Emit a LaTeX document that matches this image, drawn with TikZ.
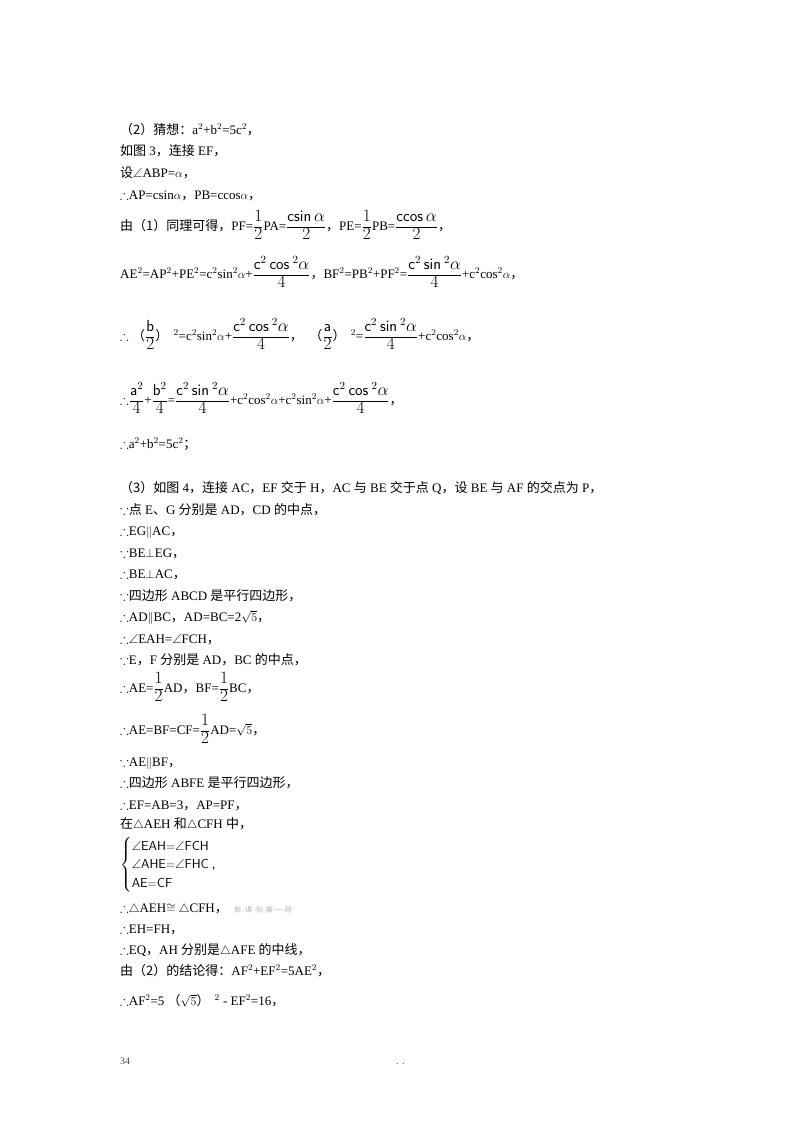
\documentclass[tikz,border=0pt]{standalone}
\usepackage{fontspec}
\usepackage{amsmath,amssymb}
\setmainfont{Liberation Serif}
\newfontfamily\cjk{Noto Sans CJK SC}
\newcommand{\C}[1]{{\cjk #1}}
\newcommand{\ts}{$\therefore$}
\newcommand{\bc}{$\because$}
\newcommand{\df}[2]{$\displaystyle\frac{\text{\fontsize{16}{16}\selectfont$#1$}}{\text{\fontsize{16}{16}\selectfont$#2$}}$}
\newcommand{\s}[1]{\mathsf{#1}}
\begin{document}
\begin{tikzpicture}[x=1pt,y=-1pt,every node/.style={anchor=base west,inner sep=0pt,font=\fontsize{13}{15}\selectfont}]
\useasboundingbox (0,0) rectangle (800,1132);
\fill[white] (0,0) rectangle (800,1132);
\node (l1) at (120,134) {\C{（2）猜想：}a$^2$+b$^2$=5c$^2$\C{，}};
\node (l2) at (120,155) {\C{如图} 3\C{，连接} EF\C{，}};
\node (l3) at (120,177) {\C{设}$\angle$ABP=$\alpha$\C{，}};
\node (l4) at (120,199) {\ts AP=csin$\alpha$\C{，}PB=ccos$\alpha$\C{，}};
\node (l5) at (120,230) {\C{由（1）同理可得，}PF=\df{1}{2}PA=\df{\s{csin}\,\alpha}{2}\C{，}PE=\df{1}{2}PB=\df{\s{ccos}\,\alpha}{2}\C{，}};
\node (l6) at (120,278) {AE$^2$=AP$^2$+PE$^2$=c$^2$sin$^2\alpha$+\df{\s{c}^2\,\s{cos}^{\;2}\alpha}{4}\C{，}BF$^2$=PB$^2$+PF$^2$=\df{\s{c}^2\,\s{sin}^{\;2}\alpha}{4}+c$^2$cos$^2\alpha$\C{，}};
\node (l7) at (120,340) {\ts\ \C{（}\df{\s{b}}{2}\C{）}$^{\;\;2}$=c$^2$sin$^2\alpha$+\df{\s{c}^2\,\s{cos}^{\;2}\alpha}{4}\C{，}\ \ \C{（}\df{\s{a}}{2}\C{）}$^{\;\;2}$=\df{\s{c}^2\,\s{sin}^{\;2}\alpha}{4}+c$^2$cos$^2\alpha$\C{，}};
\node (l8) at (120,404) {\ts\df{\s{a}^2}{4}+\df{\s{b}^2}{4}=\df{\s{c}^2\,\s{sin}^{\;2}\alpha}{4}+c$^2$cos$^2\alpha$+c$^2$sin$^2\alpha$+\df{\s{c}^2\,\s{cos}^{\;2}\alpha}{4}\C{，}};
\node (l9) at (120,448) {\ts a$^2$+b$^2$=5c$^2$\C{；}};
\node (m1) at (120,492) {\C{（3）如图} 4\C{，连接} AC\C{，}EF \C{交于} H\C{，}AC \C{与} BE \C{交于点} Q\C{，设} BE \C{与} AF \C{的交点为} P\C{，}};
\node (m2) at (120,514) {\bc\C{点} E\C{、}G \C{分别是} AD\C{，}CD \C{的中点，}};
\node (m3) at (120,535) {\ts EG$\parallel$AC\C{，}};
\node (m4) at (120,557) {\bc BE$\perp$EG\C{，}};
\node (m5) at (120,578) {\ts BE$\perp$AC\C{，}};
\node (m6) at (120,600) {\bc\C{四边形} ABCD \C{是平行四边形，}};
\node (m7) at (120,621) {\ts AD$\parallel$BC\C{，}AD=BC=2$\sqrt{5}$\C{，}};
\node (m8) at (120,643) {\ts$\angle$EAH=$\angle$FCH\C{，}};
\node (m9) at (120,664) {\bc E\C{，}F \C{分别是} AD\C{，}BC \C{的中点，}};
\node (m10) at (120,692) {\ts AE=\df{1}{2}AD\C{，}BF=\df{1}{2}BC\C{，}};
\node (m11) at (120,734) {\ts AE=BF=CF=\df{1}{2}AD=$\sqrt{5}$\C{，}};
\node (m12) at (120,766) {\bc AE$\parallel$BF\C{，}};
\node (m13) at (120,787) {\ts\C{四边形} ABFE \C{是平行四边形，}};
\node (m14) at (120,809) {\ts EF=AB=3\C{，}AP=PF\C{，}};
\node (m15) at (120,828) {\C{在}$\triangle$AEH \C{和}$\triangle$CFH \C{中，}};
\node (br) at (120,868) {\renewcommand{\arraystretch}{1.25}$\left\{\begin{array}{@{}l}\angle\s{EAH}{=}\angle\s{FCH}\\ \angle\s{AHE}{=}\angle\s{FHC}\text{ ,}\\ \s{AE}{=}\s{CF}\end{array}\right.$};
\node (m16) at (120,912) {\ts$\triangle$AEH$\cong\triangle$CFH\C{，}\ \ {\color{black!30}\fontsize{7}{8}\selectfont\cjk 新 -课 -标-第-一-网}};
\node (m17) at (120,933) {\ts EH=FH\C{，}};
\node (m18) at (120,954) {\ts EQ\C{，}AH \C{分别是}$\triangle$AFE \C{的中线，}};
\node (m19) at (120,975) {\C{由（2）的结论得：}AF$^2$+EF$^2$=5AE$^2$\C{，}};
\node (m20) at (120,1005) {\ts AF$^2$=5\ \C{（}$\sqrt{5}$\C{）}$^{\;\;2}$ - EF$^2$=16\C{，}};
\node[font=\fontsize{10}{12}\selectfont,text=black!70] (pg) at (120,1064) {34};
\node[font=\fontsize{10}{12}\selectfont,text=black!70] (dd) at (396,1064) {. .};
\end{tikzpicture}
\end{document}
